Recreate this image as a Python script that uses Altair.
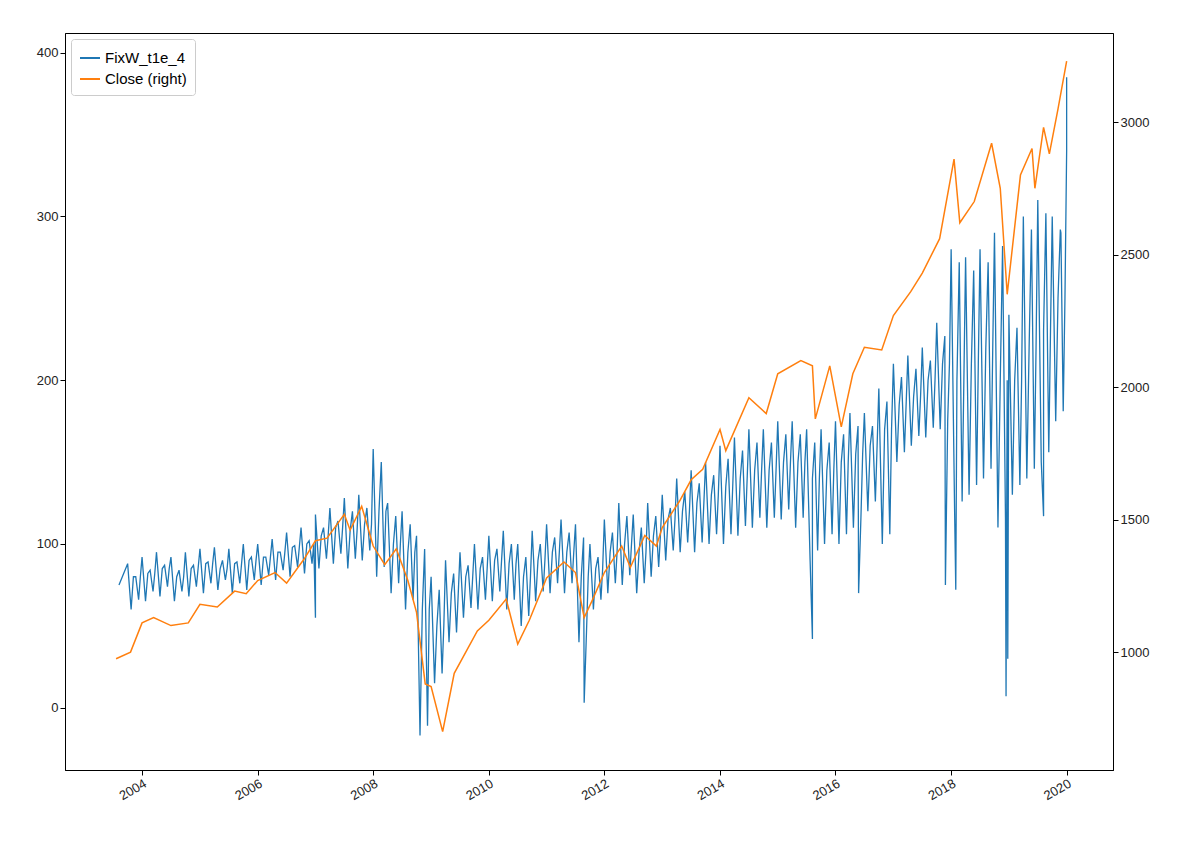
import altair as alt
import pandas as pd

q_times = [2003.75] + [y + f for y in range(2004, 2020) for f in (0.0, 0.25, 0.5, 0.75)] + [2020.0]
fix_hi = [88, 92,95,92,95, 97,98,97,100, 100,103,107,110, 118,122,128,130, 158,125,120,105,
          80,90,95,100, 105,108,100,108, 112,115,112,100, 115,125,118,125, 130,140,145,150,
          160,165,170,170, 175,175,170,170, 175,180,180,195, 210,215,220,235, 280,275,280,290,
          240,300,310,300, 340]
fix_lo = [60, 65,68,65,68, 70,72,70,72, 75,78,80,82, 85,88,85,90, 80,70,60,-17,
          15,40,55,60, 65,60,50,65, 70,70,40,60, 70,75,70,80, 90,95,95,100,
          100,105,110,110, 115,110,90,100, 100,110,120,100, 150,160,165,170, 120,130,140,110,
          130,140,150,175, 380]
fix_mid = [80, 82,85,80,85, 88,85,88,90, 92,95,98,100, 105,110,108,112, 120,100,95,60,
           50,70,80,85, 90,88,80,90, 95,95,80,85, 95,100,95,105, 115,120,125,130,
           135,140,145,145, 150,150,140,145, 150,155,160,170, 185,190,200,210, 200,210,220,200,
           200,220,230,250, 360]
spike_t = [2003.6, 2007.0, 2011.65, 2015.6, 2016.4, 2017.9, 2018.08, 2018.95, 2018.98, 2019.6, 2019.9, 2020.0]
spike_v = [75, 55, 3, 42, 70, 75, 72, 7, 30, 117, 290, 385]

close_t = [2003.55, 2003.8, 2004.0, 2004.2, 2004.5, 2004.8, 2005.0, 2005.3, 2005.6, 2005.8, 2006.0, 2006.3,
           2006.5, 2006.8, 2007.0, 2007.2, 2007.5, 2007.6, 2007.8, 2008.0, 2008.2, 2008.4, 2008.6,
           2008.75, 2008.9, 2009.0, 2009.2, 2009.4, 2009.6, 2009.8, 2010.0, 2010.3, 2010.5, 2010.7,
           2011.0, 2011.3, 2011.5, 2011.65, 2011.8, 2012.0, 2012.3, 2012.45, 2012.7, 2012.9, 2013.0,
           2013.3, 2013.5, 2013.7, 2014.0, 2014.1, 2014.5, 2014.8, 2015.0, 2015.4, 2015.6, 2015.65,
           2015.9, 2016.1, 2016.3, 2016.5, 2016.8, 2017.0, 2017.3, 2017.5, 2017.8, 2018.05, 2018.15,
           2018.4, 2018.7, 2018.85, 2018.97, 2019.2, 2019.4, 2019.45, 2019.6, 2019.7, 2019.85, 2020.0]
close_v = [975, 1000, 1110, 1130, 1100, 1110, 1180, 1170, 1230, 1220, 1270, 1300,
           1260, 1350, 1420, 1430, 1520, 1460, 1550, 1400, 1330, 1390, 1270,
           1150, 880, 870, 700, 920, 1000, 1080, 1120, 1200, 1030, 1120,
           1280, 1340, 1300, 1130, 1200, 1300, 1400, 1320, 1440, 1400, 1470,
           1570, 1650, 1690, 1840, 1760, 1960, 1900, 2050, 2100, 2080, 1880,
           2080, 1850, 2050, 2150, 2140, 2270, 2360, 2430, 2560, 2860, 2620,
           2700, 2920, 2750, 2350, 2800, 2900, 2750, 2980, 2880, 3050, 3230]

def todate(t):
    y = int(t)
    return pd.Timestamp(year=y, month=1, day=1) + pd.Timedelta(days=(t - y) * 365.25)

pts = []
for t, h, m, l in zip(q_times, fix_hi, fix_mid, fix_lo):
    pts.append((t, h)); pts.append((t + 0.06, l)); pts.append((t + 0.1, m))
    pts.append((t + 0.14, h - 8)); pts.append((t + 0.19, l + 6)); pts.append((t + 0.22, m))
pts += list(zip(spike_t, spike_v))
pts = sorted(p for p in pts if p[0] <= 2020.0)
fix_df = pd.DataFrame({"date": [todate(t) for t, _ in pts], "v": [v for _, v in pts], "s": "FixW_t1e_4"})
close_df = pd.DataFrame({"date": [todate(t) for t in close_t], "v": close_v, "s": "Close (right)"})

color = alt.Color("s:N", scale=alt.Scale(domain=["FixW_t1e_4", "Close (right)"], range=["#1f77b4", "#ff7f0e"]),
                  legend=alt.Legend(title=None, orient="top-left", strokeColor="#cccccc", fillColor="white",
                                    padding=8, labelFontSize=15, symbolStrokeWidth=2, symbolType="stroke",
                                    symbolSize=400, cornerRadius=3, offset=6))
xdom = [pd.Timestamp("2002-09-01").isoformat(), pd.Timestamp("2020-10-20").isoformat()]
xvals = [pd.Timestamp(f"{y}-01-01").isoformat() for y in range(2004, 2021, 2)]
x = alt.X("date:T", scale=alt.Scale(domain=xdom), title=None,
          axis=alt.Axis(values=xvals, format="%Y", labelAngle=-30, labelAlign="right", grid=False, labelFontSize=13))

left = alt.Chart(fix_df).mark_line(strokeWidth=1.3).encode(
    x=x, y=alt.Y("v:Q", scale=alt.Scale(domain=[-38, 412], nice=False), title=None,
                 axis=alt.Axis(values=[0, 100, 200, 300, 400], grid=False, labelFontSize=13)),
    color=color)
right = alt.Chart(close_df).mark_line(strokeWidth=1.5).encode(
    x=x, y=alt.Y("v:Q", scale=alt.Scale(domain=[555, 3336], nice=False), title=None,
                 axis=alt.Axis(orient="right", values=[1000, 1500, 2000, 2500, 3000], format="d",
                               grid=False, labelFontSize=13)),
    color=color)

chart = alt.layer(left, right).resolve_scale(y="independent").properties(
    width=1048, height=737, autosize=alt.AutoSizeParams(type="none"),
    padding={"left": 57, "top": 25, "right": 60, "bottom": 60}
).configure_view(stroke="black").configure_axis(domainColor="black", tickColor="black", labelColor="#222")
chart.save("out.html", embed_options={"renderer": "svg", "actions": False})
